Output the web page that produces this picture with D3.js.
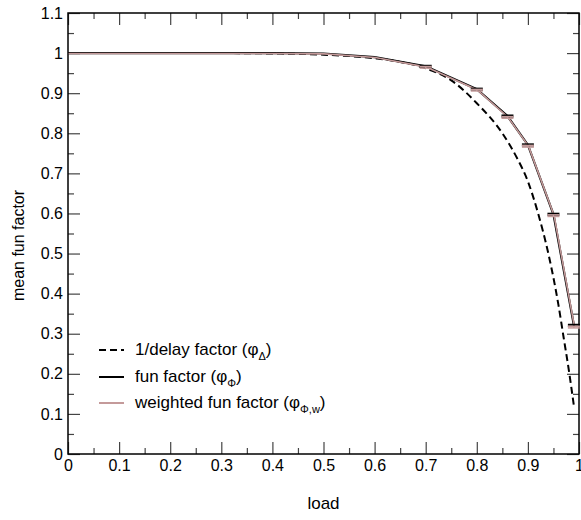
<!DOCTYPE html>
<html lang="en">
<head>
<meta charset="UTF-8">
<title>mean fun factor vs load</title>
<script src="https://d3js.org/d3.v7.min.js"></script>
<style>
  body { margin: 0; background: #fff; }
  svg { font-family: "Liberation Sans", Arial, sans-serif; }
</style>
</head>
<body>
<svg id="chart" width="581" height="520"></svg>
<script>
// values
const delayLoad = [0, 0.1, 0.2, 0.3, 0.4, 0.5, 0.6, 0.65, 0.7, 0.75, 0.8, 0.85, 0.88, 0.9, 0.92, 0.94, 0.96, 0.97, 0.98, 0.99];
const delayVal  = [1, 1, 1, 1, 0.999, 0.996, 0.987, 0.978, 0.962, 0.932, 0.875, 0.80, 0.735, 0.68, 0.60, 0.50, 0.37, 0.29, 0.21, 0.12];

const funLoad = [0, 0.1, 0.2, 0.3, 0.4, 0.5, 0.6, 0.7, 0.8, 0.86, 0.9, 0.95, 0.99];
const funVal  = [1, 1, 1, 1, 1, 0.999, 0.99, 0.967, 0.91, 0.843, 0.771, 0.598, 0.321];
const wFunVal = [1, 1, 1, 1, 1, 0.999, 0.99, 0.966, 0.909, 0.841, 0.769, 0.596, 0.318];
const errLoad = [0.7, 0.8, 0.86, 0.9, 0.95, 0.99];
const funErr  = 0.002;

const legendLabels = [
  ["1/delay factor (\u03c6", "\u0394", ")"],
  ["fun factor (\u03c6", "\u03a6", ")"],
  ["weighted fun factor (\u03c6", "\u03a6,w", ")"]
];

let svg = d3.select("#chart");
let mLeft = 68, mRight = 579, mTop = 13, mBottom = 454;
let pink = "#c49a9a";

let x = d3.scaleLinear().domain([0, 1]).range([mLeft, mRight]);
let y = d3.scaleLinear().domain([0, 1.1]).range([mBottom, mTop]);

let fmt = d => String(+d.toFixed(1));
let major = d3.range(0, 11).map(d => d / 10);
let majorY = d3.range(0, 12).map(d => d / 10);
let minor = d3.range(0, 10).map(d => d / 10 + 0.05);
let minorY = d3.range(0, 11).map(d => d / 10 + 0.05);

function styleAxis(g) {
  g.select(".domain").remove();
  g.selectAll(".tick line").attr("stroke", "#444").attr("stroke-width", 1.2);
  g.selectAll(".tick text").attr("fill", "#000").attr("font-size", 16)
    .attr("font-family", "Liberation Sans, Arial, sans-serif");
}

// bottom
svg.append("g").attr("transform", `translate(0,${mBottom})`)
  .call(d3.axisBottom(x).tickValues(major).tickSize(-12).tickPadding(6).tickFormat(fmt))
  .call(styleAxis);
svg.append("g").attr("transform", `translate(0,${mBottom})`)
  .call(d3.axisBottom(x).tickValues(minor).tickSize(-6).tickFormat(""))
  .call(styleAxis);
// top
svg.append("g").attr("transform", `translate(0,${mTop})`)
  .call(d3.axisTop(x).tickValues(major).tickSize(-12).tickFormat(""))
  .call(styleAxis);
svg.append("g").attr("transform", `translate(0,${mTop})`)
  .call(d3.axisTop(x).tickValues(minor).tickSize(-6).tickFormat(""))
  .call(styleAxis);
// left
svg.append("g").attr("transform", `translate(${mLeft},0)`)
  .call(d3.axisLeft(y).tickValues(majorY).tickSize(-12).tickPadding(5).tickFormat(fmt))
  .call(styleAxis);
svg.append("g").attr("transform", `translate(${mLeft},0)`)
  .call(d3.axisLeft(y).tickValues(minorY).tickSize(-6).tickFormat(""))
  .call(styleAxis);
// right
svg.append("g").attr("transform", `translate(${mRight},0)`)
  .call(d3.axisRight(y).tickValues(majorY).tickSize(-12).tickFormat(""))
  .call(styleAxis);
svg.append("g").attr("transform", `translate(${mRight},0)`)
  .call(d3.axisRight(y).tickValues(minorY).tickSize(-6).tickFormat(""))
  .call(styleAxis);

// frame
svg.append("rect")
  .attr("x", mLeft).attr("y", mTop)
  .attr("width", mRight - mLeft).attr("height", mBottom - mTop)
  .attr("fill", "none").attr("stroke", "#000").attr("stroke-width", 1.5);

// axis titles
svg.append("text").attr("x", (mLeft + mRight) / 2).attr("y", 509)
  .attr("text-anchor", "middle").attr("font-size", 17).text("load");
svg.append("text")
  .attr("transform", `translate(24,${(mTop + mBottom) / 2 + 12}) rotate(-90)`)
  .attr("text-anchor", "middle").attr("font-size", 16).text("mean fun factor");

// curves
let delayData = delayLoad.map((d, i) => [d, delayVal[i]]);
let funData = funLoad.map((d, i) => [d, funVal[i]]);
let wFunData = funLoad.map((d, i) => [d, wFunVal[i]]);

let smooth = d3.line().x(d => x(d[0])).y(d => y(d[1])).curve(d3.curveMonotoneX);
let lin = d3.line().x(d => x(d[0])).y(d => y(d[1]));

svg.append("path").attr("d", smooth(delayData))
  .attr("fill", "none").attr("stroke", "#000").attr("stroke-width", 2)
  .attr("stroke-dasharray", "7,4");

svg.append("path").attr("d", lin(funData))
  .attr("fill", "none").attr("stroke", "#000").attr("stroke-width", 2.2);
svg.append("path").attr("d", lin(wFunData))
  .attr("fill", "none").attr("stroke", pink).attr("stroke-width", 1.6)
  .attr("transform", "translate(0.6,0.4)");

// error bars
function errBars(vals, color, dy) {
  errLoad.forEach(l => {
    let v = vals[funLoad.indexOf(l)];
    let cx = x(l);
    svg.append("line").attr("x1", cx).attr("x2", cx)
      .attr("y1", y(v + funErr) + dy).attr("y2", y(v - funErr) + dy)
      .attr("stroke", color).attr("stroke-width", 1.5);
    [v + funErr, v - funErr].forEach(e => {
      svg.append("line").attr("x1", cx - 6).attr("x2", cx + 6)
        .attr("y1", y(e) + dy).attr("y2", y(e) + dy)
        .attr("stroke", color).attr("stroke-width", 1.5);
    });
  });
}
errBars(funVal, "#000", 0);
errBars(wFunVal, pink, 0.6);

// legend
let legendY = [350, 377, 403];
let legendStyles = [
  { stroke: "#000", dash: "7,4", w: 2 },
  { stroke: "#000", dash: null, w: 2 },
  { stroke: pink, dash: null, w: 2 }
];
legendLabels.forEach((lab, i) => {
  let ly = legendY[i];
  svg.append("line").attr("x1", 99).attr("x2", 124).attr("y1", ly).attr("y2", ly)
    .attr("stroke", legendStyles[i].stroke).attr("stroke-width", legendStyles[i].w)
    .attr("stroke-dasharray", legendStyles[i].dash);
  let t = svg.append("text").attr("x", 135).attr("y", ly + 5).attr("font-size", 17);
  t.append("tspan").text(lab[0]);
  t.append("tspan").attr("font-size", 11).attr("dy", 5).text(lab[1]);
  t.append("tspan").attr("dy", -5).text(lab[2]);
});
</script>
</body>
</html>
